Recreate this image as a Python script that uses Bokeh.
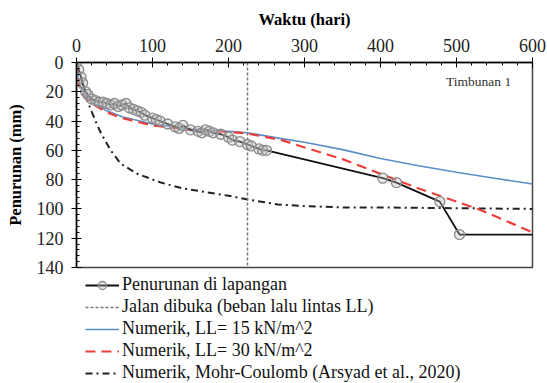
from bokeh.plotting import figure
from bokeh.layouts import column
from bokeh.models import Range1d, Legend, LegendItem, Label, FixedTicker
from bokeh.embed import file_html
from bokeh.resources import INLINE

# Field settlement (Penurunan di lapangan)
field_day = [0, 3, 6, 8, 12, 15, 20, 25, 30, 35, 40, 45, 50, 55, 60, 65, 70, 75, 80, 85,
             90, 100, 105, 110, 120, 130, 135, 140, 150, 160, 165, 170, 175, 180, 190, 200,
             205, 215, 225, 230, 240, 245, 250, 403, 421, 478, 504, 600]
field_mm = [0, 5, 10, 14, 20, 22, 25, 26, 27, 27, 28, 29, 28, 30, 29, 28, 31, 32, 33, 34,
            36, 38, 39, 40, 42, 44, 45, 43, 46, 47, 48, 46, 47, 48, 49, 51,
            53, 54, 56, 57, 59, 60, 60, 79, 82, 95, 117.5, 117.5]

# Road opened (traffic load)
road_day = [225, 225]
road_mm = [0, 140]

# Numerical, LL = 15 kN/m^2
ll15_day = [0, 2, 5, 10, 20, 40, 60, 100, 150, 200, 225, 270, 300, 350, 400, 450, 500, 550, 600]
ll15_mm = [0, 10, 16, 21, 27, 33, 37, 42, 45.5, 47, 48, 52, 54.5, 59.5, 65.5, 70.5, 75, 79, 83]

# Numerical, LL = 30 kN/m^2
ll30_day = [0, 2, 5, 10, 20, 40, 60, 100, 150, 200, 225, 270, 300, 350, 400, 450, 500, 533, 600]
ll30_mm = [0, 12, 18, 23, 28, 34, 38, 43, 46, 47.5, 48.5, 53, 58, 66, 76, 86, 95, 101, 116]

# Numerical, Mohr-Coulomb (Arsyad et al., 2020)
mc_day = [0, 5, 9, 14, 18, 25, 32, 45, 58, 80, 111, 140, 164, 200, 225, 265, 300, 350, 400, 500, 600]
mc_mm = [0, 8, 17, 26, 31, 40, 48, 60, 69, 76, 82, 86, 88, 91, 93.5, 97, 98, 99, 99, 99.5, 100]

x_ticks = [0, 100, 200, 300, 400, 500, 600]
y_ticks = [0, 20, 40, 60, 80, 100, 120, 140]

labels = ["Penurunan di lapangan",
          "Jalan dibuka (beban lalu lintas LL)",
          "Numerik, LL= 15 kN/m^2",
          "Numerik, LL= 30 kN/m^2",
          "Numerik, Mohr-Coulomb (Arsyad et al., 2020)"]

FONT = "Liberation Serif"

STY_FIELD_L = dict(line_color="#111111", line_width=1.8)
STY_FIELD_M = dict(size=10, marker="circle", line_color="#8a8a8a", line_width=1.3,
                   fill_color="#bdbdbd", fill_alpha=0.35)
STY_ROAD = dict(line_color="#777777", line_width=1.5, line_dash="3 2")
STY_LL15 = dict(line_color="#5b8ec9", line_width=1.6)
STY_LL30 = dict(line_color="#e8403a", line_width=2.2, line_dash="10 6")
STY_MC = dict(line_color="#222222", line_width=2, line_dash="7 4 2 4")

p = figure(frame_width=456, frame_height=205, output_backend="svg", toolbar_location=None,
           x_range=Range1d(0, 600), y_range=Range1d(140, 0),
           x_axis_location="above")
p.min_border_left = 76
p.min_border_right = 15
p.min_border_top = 62
p.min_border_bottom = 10
p.background_fill_color = "white"
p.border_fill_color = "white"
p.grid.visible = False
p.outline_line_color = "#444444"
p.outline_line_width = 1.5

xa = p.xaxis[0]
xa.ticker = FixedTicker(ticks=x_ticks, minor_ticks=list(range(0, 601, 20)))
xa.axis_label = "Waktu (hari)"
ya = p.yaxis[0]
ya.ticker = FixedTicker(ticks=y_ticks, minor_ticks=list(range(0, 141, 4)))
ya.axis_label = "Penurunan (mm)"
for ax in (xa, ya):
    ax.axis_line_color = "black"
    ax.axis_line_width = 1.5
    ax.major_tick_line_color = "black"
    ax.minor_tick_line_color = "black"
    ax.major_tick_in = 5
    ax.major_tick_out = 5
    ax.minor_tick_in = 3
    ax.minor_tick_out = 0
    ax.major_label_text_font = FONT
    ax.major_label_text_font_size = "18px"
    ax.major_label_text_color = "#222222"
    ax.axis_label_text_font = FONT
    ax.axis_label_text_font_size = "16.5px"
    ax.axis_label_text_font_style = "bold"
    ax.axis_label_text_color = "black"
xa.major_label_standoff = 6
xa.axis_label_standoff = 7
ya.major_label_standoff = 8
ya.axis_label_standoff = 9

p.line(mc_day, mc_mm, **STY_MC)
p.line(ll15_day, ll15_mm, **STY_LL15)
p.line(ll30_day, ll30_mm, **STY_LL30)
p.line(road_day, road_mm, **STY_ROAD)
p.line(field_day, field_mm, **STY_FIELD_L)
p.scatter(field_day[:-1], field_mm[:-1], **STY_FIELD_M)

p.add_layout(Label(x=572, y=13, text="Timbunan 1", text_align="right", text_baseline="middle",
                   text_font=FONT, text_font_size="13.5px", text_color="#333333"))

# Legend panel below the chart (same series, drawn outside its visible range)
lg = figure(width=547, height=106, output_backend="svg", toolbar_location=None,
            x_range=Range1d(10000, 10001), y_range=Range1d(10000, 10001),
            x_axis_location=None, y_axis_location=None)
lg.min_border_left = 76
lg.min_border_top = 0
lg.min_border_right = 0
lg.min_border_bottom = 0
lg.grid.visible = False
lg.outline_line_color = None
lg.background_fill_color = "white"
lg.border_fill_color = "white"

q_fl = lg.line(field_day, field_mm, **STY_FIELD_L)
q_fm = lg.scatter(field_day[:-1], field_mm[:-1], **STY_FIELD_M)
q_rd = lg.line(road_day, road_mm, **STY_ROAD)
q_15 = lg.line(ll15_day, ll15_mm, **STY_LL15)
q_30 = lg.line(ll30_day, ll30_mm, **STY_LL30)
q_mc = lg.line(mc_day, mc_mm, **STY_MC)

legend = Legend(items=[
    LegendItem(label=labels[0], renderers=[q_fl, q_fm]),
    LegendItem(label=labels[1], renderers=[q_rd]),
    LegendItem(label=labels[2], renderers=[q_15]),
    LegendItem(label=labels[3], renderers=[q_30]),
    LegendItem(label=labels[4], renderers=[q_mc]),
], location=(9, 0))
legend.label_text_font = FONT
legend.label_text_font_size = "18px"
legend.label_text_color = "#111111"
legend.glyph_width = 34
legend.glyph_height = 20
legend.label_height = 20
legend.label_standoff = 3
legend.spacing = 1
legend.padding = 0
legend.margin = 0
legend.border_line_color = None
legend.background_fill_alpha = 0
lg.add_layout(legend, "center")

layout = column(p, lg, spacing=0)
open("out.html", "w").write(file_html(layout, INLINE))
